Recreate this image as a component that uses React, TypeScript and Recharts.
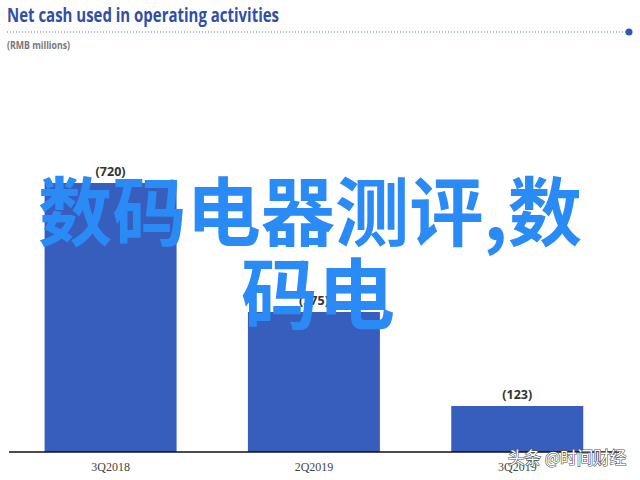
import React from 'react';
import { BarChart, Bar, XAxis, YAxis, LabelList } from 'recharts';

const categories = ['3Q2018', '2Q2019', '3Q2019'];
const values = [720, 375, 123];
const valueLabels = ['(720)', '(375)', '(123)'];

const title = 'Net cash used in operating activities';
const subtitle = '(RMB millions)';
const overlayLine1 = '数码电器测评,数';
const overlayLine2 = '码电';
const watermark = '头条 @时间财经';

const data = categories.map((c, i) => ({ name: c, value: values[i], label: valueLabels[i] }));

export default function App() {
  return (
    <div style={{ position: 'absolute', left: 0, top: 0, width: 640, height: 480, background: '#fff', overflow: 'hidden' }}>
      <BarChart
        width={640}
        height={480}
        data={data}
        margin={{ top: 183, right: 21, bottom: 0, left: 9 }}
        barCategoryGap="17.5%"
      >
        <XAxis
          dataKey="name"
          height={28}
          tickLine={false}
          axisLine={{ stroke: '#111', strokeWidth: 1.5 }}
          tick={{ fill: '#444', fontSize: 12, fontFamily: 'Liberation Serif, serif' }}
          tickMargin={4}
        />
        <YAxis hide domain={[0, 720]} />
        <Bar dataKey="value" fill="#385ebd" isAnimationActive={false}>
          <LabelList
            dataKey="label"
            position="top"
            offset={7}
            style={{ fill: '#333', fontSize: 12.5, fontWeight: 700, fontFamily: 'Open Sans, sans-serif' }}
          />
        </Bar>
      </BarChart>
      <svg width={640} height={480} style={{ position: 'absolute', left: 0, top: 0, pointerEvents: 'none' }}>
        <text x={7} y={22} fill="#2f4fa6" fontSize={19.5} fontWeight={700} fontFamily="Open Sans, sans-serif" textLength={272} lengthAdjust="spacingAndGlyphs">
          {title}
        </text>
        <line x1={7} y1={32} x2={626} y2={32} stroke="#5a75bd" strokeWidth={1} strokeDasharray="1 2" />
        <circle cx={629} cy={32} r={3.5} fill="#2f55b5" />
        <text x={7} y={49} fill="#777" fontSize={10.5} fontWeight={700} fontFamily="Open Sans, sans-serif" textLength={63} lengthAdjust="spacingAndGlyphs">
          {subtitle}
        </text>
        <text x={38} y={240} fill="#2a8bf6" fontSize={75} fontWeight={700} fontFamily="Noto Sans CJK SC, sans-serif" textLength={544} lengthAdjust="spacingAndGlyphs">
          {overlayLine1}
        </text>
        <text x={241} y={323} fill="#2a8bf6" fontSize={77} fontWeight={700} fontFamily="Noto Sans CJK SC, sans-serif">
          {overlayLine2}
        </text>
        <text x={508} y={464} fill="#fff" stroke="#555" strokeWidth={1.2} paintOrder="stroke" fontSize={16.5} fontFamily="Noto Sans CJK SC, sans-serif">
          {watermark}
        </text>
      </svg>
    </div>
  );
}
